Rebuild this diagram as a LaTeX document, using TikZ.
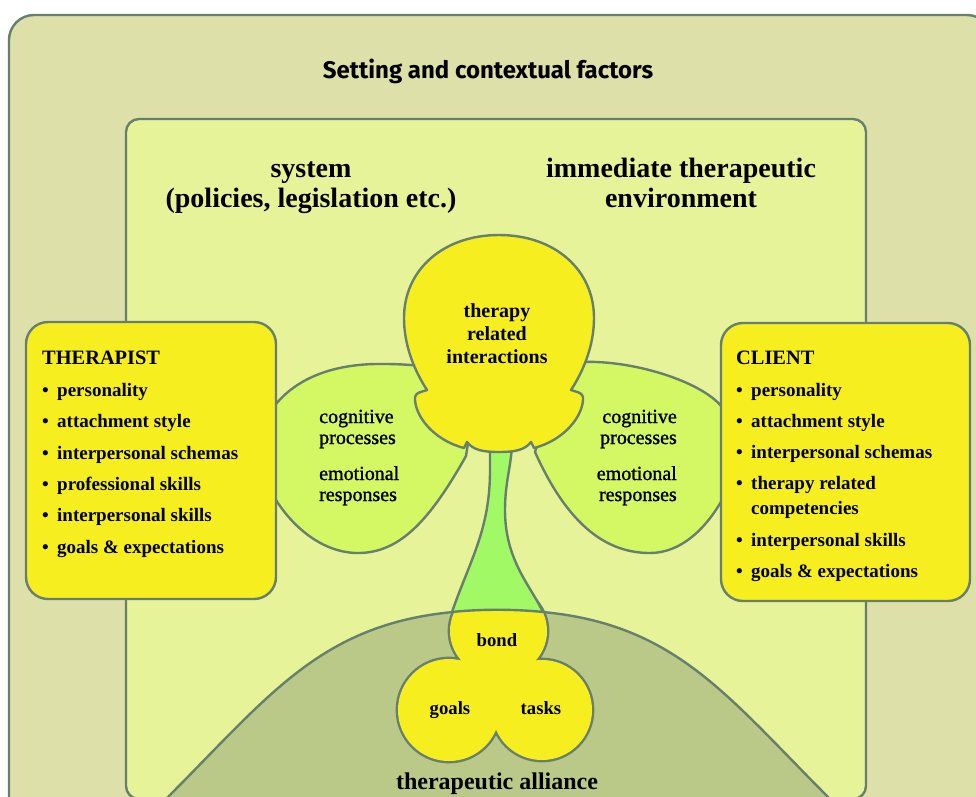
\documentclass[tikz,border=0pt]{standalone}
\usepackage{fontspec}
\setmainfont{Liberation Serif}
\newfontfamily\settingfont{Fira Sans}
\newfontfamily\petalfont[FakeBold=1.2]{Liberation Serif}
\definecolor{outerbg}{HTML}{DDE0A9}
\definecolor{innerbg}{HTML}{E6F398}
\definecolor{yel}{HTML}{F6EE1E}
\definecolor{petalgreen}{HTML}{D4F864}
\definecolor{stemgreen}{HTML}{A2F966}
\definecolor{hillgreen}{HTML}{BAC987}
\definecolor{edgecol}{HTML}{667F6E}
\tikzset{
  outline/.style={draw=edgecol, line width=2.4pt, line join=round},
  hdr/.style={font=\fontsize{28}{30}\selectfont\bfseries, anchor=base, inner sep=0pt},
  boxtitle/.style={font=\fontsize{20.4}{24}\selectfont\bfseries, anchor=base west, inner sep=0pt},
  item/.style={font=\fontsize{19}{22}\selectfont\bfseries, anchor=base west, inner sep=0pt},
  headtxt/.style={font=\fontsize{20}{23}\selectfont\bfseries, anchor=base, inner sep=0pt},
  petaltxt/.style={font=\petalfont\fontsize{20}{22}\selectfont, inner sep=0pt},
  lobetxt/.style={font=\fontsize{18.7}{22}\selectfont\bfseries, anchor=base, inner sep=0pt},
}
\newcommand{\bul}{\makebox[15pt][l]{\textbullet}}
\begin{document}
\begin{tikzpicture}[x=1pt,y=-1pt]
\useasboundingbox (0,0) rectangle (976,796);
\clip (0,0) rectangle (976,796);
\fill[white] (0,0) rectangle (976,796);

% nested frames
\draw[outline, fill=outerbg, rounded corners=25pt] (9,15) rectangle (992,830);
\draw[outline, fill=innerbg, rounded corners=13pt] (126,119) rectangle (866,799);

% alliance hill
\draw[outline, fill=hillgreen] (165,800) .. controls (280,685) and (330,610) .. (498,610)
  .. controls (666,610) and (716,685) .. (831,800) -- cycle;

% petals
\draw[outline, fill=petalgreen] (263,404) -- (276,404) .. controls (300,375) and (340,363) .. (385,364)
  .. controls (400,364) and (412,365) .. (420,366) -- (450,400) -- (470,430) -- (466,456)
  .. controls (430,520) and (400,553) .. (358,553)
  .. controls (325,553) and (295,530) .. (276,500) -- (263,500) -- cycle;
\draw[outline, fill=petalgreen] (583,362) .. controls (630,360) and (700,380) .. (722,407)
  -- (735,407) -- (735,500) -- (722,500)
  .. controls (705,530) and (680,553) .. (650,553)
  .. controls (610,553) and (570,530) .. (535,452) -- (545,420) -- (575,370) -- cycle;

% therapist and client boxes
\draw[outline, fill=yel, rounded corners=22pt] (26,322) rectangle (276,599);
\draw[outline, fill=yel, rounded corners=22pt] (721,323) rectangle (970,601);

% alliance trefoil: wide stroke first, fill on top keeps the outer contour
\draw[draw=edgecol, line width=4.8pt] (498.5,631) ellipse [x radius=48.5pt, y radius=46pt]
  (449,710) circle [radius=51pt] (542,710) circle [radius=50pt]
  (495,695) circle [radius=25pt];
\fill[yel] (498.5,631) ellipse [x radius=48.5pt, y radius=46pt]
  (449,710) circle [radius=51pt] (542,710) circle [radius=50pt]
  (495,695) circle [radius=25pt];

% stem
\draw[outline, fill=stemgreen] (490,440) -- (490,470) .. controls (490,530) and (470,560) .. (452,612)
  .. controls (480,609) and (515,609) .. (543,612)
  .. controls (530,585) and (505,560) .. (505,510)
  .. controls (505,480) and (512,465) .. (512,440) -- cycle;

% head
\draw[outline, fill=yel] (499,235)
  .. controls (555,235) and (594,270) .. (594,318)
  .. controls (594,345) and (584,370) .. (571,390)
  .. controls (576,392) and (582,392) .. (583,397)
  .. controls (584,415) and (565,440) .. (534,448)
  -- (531,442)
  .. controls (525,450) and (515,452) .. (499,452)
  .. controls (483,452) and (473,450) .. (467,442)
  -- (464,448)
  .. controls (433,440) and (414,415) .. (415,397)
  .. controls (416,392) and (422,392) .. (427,390)
  .. controls (414,370) and (404,345) .. (404,318)
  .. controls (404,270) and (443,235) .. (499,235) -- cycle;

% headings
\node[font=\settingfont\fontsize{24}{27}\selectfont\bfseries, anchor=base, inner sep=0pt] (setting) at (488,78) {Setting and contextual factors};
\node[hdr] (sys1) at (311,177) {system};
\node[hdr] (sys2) at (311,207) {(policies, legislation etc.)};
\node[hdr] (env1) at (681,177) {immediate therapeutic};
\node[hdr] (env2) at (681,207) {environment};

% therapist list
\node[boxtitle] (thtitle) at (42,364) {THERAPIST};
\node[item] (th1) at (42,396) {\bul personality};
\node[item] (th2) at (42,427.5) {\bul attachment style};
\node[item] (th3) at (42,459) {\bul interpersonal schemas};
\node[item] (th4) at (42,490) {\bul professional skills};
\node[item] (th5) at (42,521.5) {\bul interpersonal skills};
\node[item] (th6) at (42,553) {\bul goals \& expectations};

% client list
\node[boxtitle] (cltitle) at (736,364) {CLIENT};
\node[item] (cl1) at (736,396) {\bul personality};
\node[item] (cl2) at (736,427) {\bul attachment style};
\node[item] (cl3) at (736,458) {\bul interpersonal schemas};
\node[item] (cl4) at (736,489) {\bul therapy related};
\node[item] (cl4b) at (751,514) {competencies};
\node[item] (cl5) at (736,546) {\bul interpersonal skills};
\node[item] (cl6) at (736,577) {\bul goals \& expectations};

% head text
\node[headtxt] (hd1) at (497,317) {therapy};
\node[headtxt] (hd2) at (497,340) {related};
\node[headtxt] (hd3) at (497,363) {interactions};

% petal text
\node[petaltxt, anchor=base west] (lp1) at (319,423) {cognitive};
\node[petaltxt, anchor=base west] (lp2) at (319,444) {processes};
\node[petaltxt, anchor=base west] (lp3) at (319,480) {emotional};
\node[petaltxt, anchor=base west] (lp4) at (319,501) {responses};
\node[petaltxt, anchor=base east] (rp1) at (677,423) {cognitive};
\node[petaltxt, anchor=base east] (rp2) at (677,444) {processes};
\node[petaltxt, anchor=base east] (rp3) at (677,480) {emotional};
\node[petaltxt, anchor=base east] (rp4) at (677,501) {responses};

% alliance text
\node[lobetxt] (bond) at (497,646) {bond};
\node[lobetxt] (goals) at (450,714) {goals};
\node[lobetxt] (tasks) at (541,714) {tasks};
\node[font=\fontsize{24}{26}\selectfont\bfseries, anchor=base, inner sep=0pt] (alliance) at (497,789) {therapeutic alliance};
\end{tikzpicture}
\end{document}
